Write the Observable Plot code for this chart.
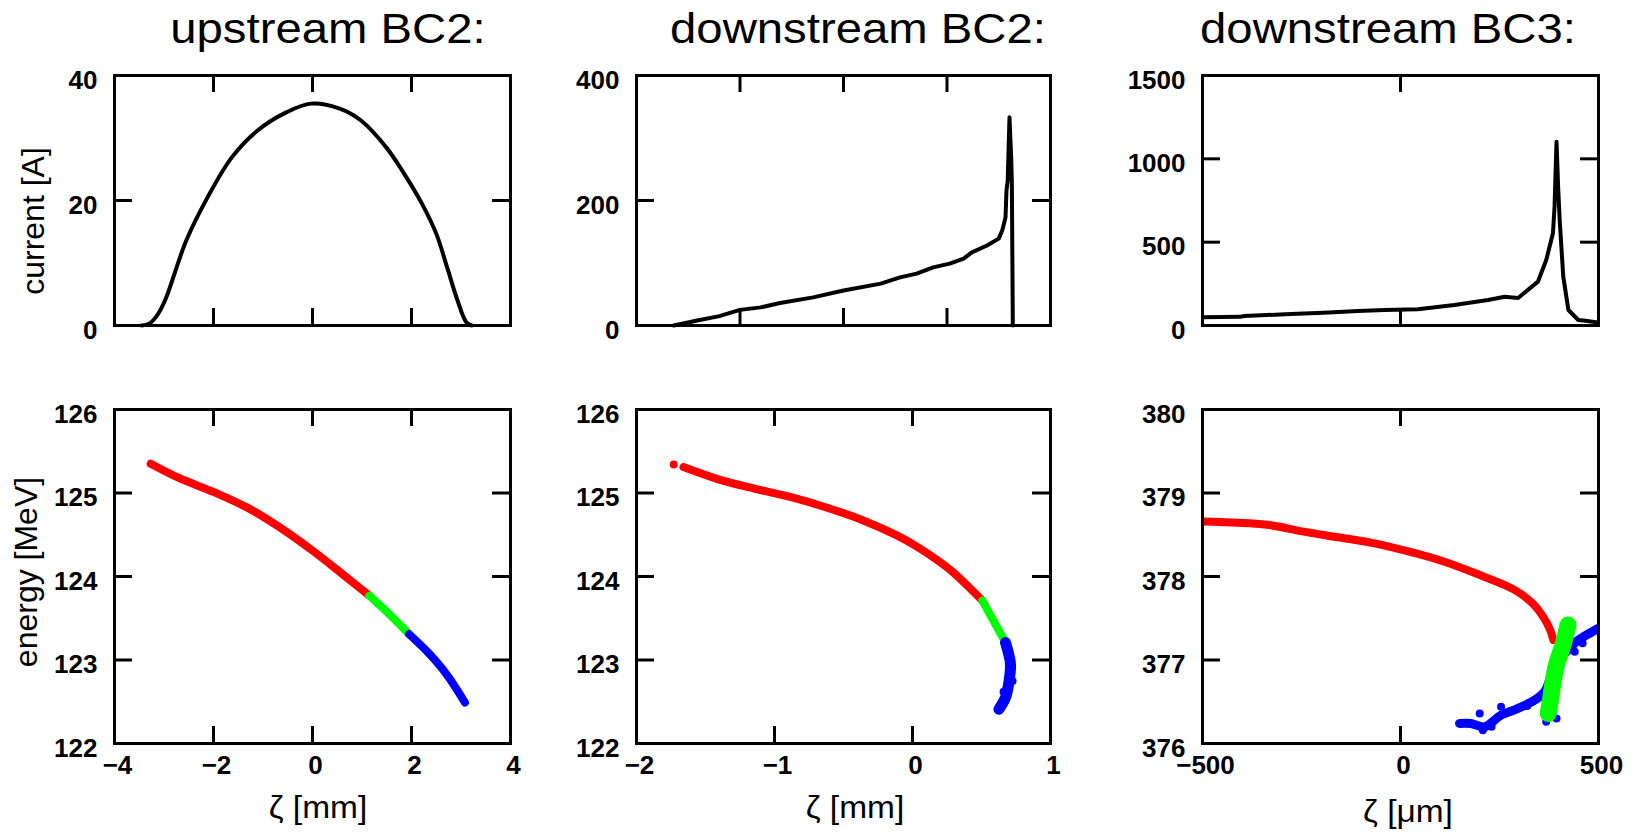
<!DOCTYPE html>
<html><head><meta charset="utf-8">
<script src="https://cdn.jsdelivr.net/npm/d3@7"></script>
<script src="https://cdn.jsdelivr.net/npm/@observablehq/plot@0.6"></script>
<style>
body{margin:0;background:#fff;}
#root{position:relative;width:1643px;height:833px;overflow:hidden;font-family:"Liberation Sans",Arial,sans-serif;color:#000;background:#fff;}
.t{position:absolute;white-space:nowrap;line-height:1;}
#root svg{position:absolute;}
</style></head><body><div id="root"></div>
<script>
// ---------- titles & labels ----------
const titles = ["upstream BC2:", "downstream BC2:", "downstream BC3:"];
const xLabels = ["ζ [mm]", "ζ [mm]", "ζ [μm]"];
const yLabels = ["current [A]", "energy [MeV]"];

// ---------- upstream BC2 current ----------
const upZeta    = [-3.45,-3.3,-3.15,-2.98,-2.55,-2.12,-1.63,-1.11,-0.53,-0.03,0.55,0.98,1.49,1.85,2.21,2.50,2.72,2.93,3.11,3.22];
const upCurrent = [0,0.3,1.5,4.0,13.6,20.5,26.9,31.2,34.1,35.5,34.7,32.8,28.5,24.3,19.5,14.7,9.3,4.0,0.5,0];

// ---------- downstream BC2 current ----------
const dsZeta    = [-1.73,-1.56,-1.40,-1.25,-1.10,-0.96,-0.72,-0.50,-0.23,-0.09,0.03,0.15,0.27,0.37,0.43,0.54,0.625,0.65,0.674,0.681,0.69,0.698,0.703,0.709,0.715,0.72,0.727];
const dsCurrent = [0,8,15,25,29,36,45,56,67,77,83,93,99,107,117,128,139,152,173,216,232,296,333,300,269,227,0];

// ---------- downstream BC3 current ----------
const bc3Zeta    = [-500,-405,-395,-277,-194,-108,-41,44,136,221,263,297,347,368,385,389,392,394,398,402,411,424,449,467,500];
const bc3Current = [50,52,57,69,77,87,93,98,123,153,173,165,263,393,553,713,953,1103,833,633,293,93,33,28,17];

// ---------- energy, upstream BC2 ----------
const upRed   = [[-3.27,125.35],[-2.70,125.18],[-1.99,125.01],[-1.27,124.81],[-0.69,124.60],[0.0,124.31],[0.54,124.06],[1.15,123.77]];
const upGreen = [[1.15,123.77],[1.55,123.55],[1.95,123.31]];
const upBlue  = [[1.95,123.31],[2.35,123.08],[2.72,122.82],[3.08,122.49]];

// ---------- energy, downstream BC2 ----------
const dsRedDot = [[-1.73,125.34]];
const dsRed   = [[-1.66,125.31],[-1.40,125.16],[-1.14,125.05],[-0.88,124.95],[-0.63,124.83],[-0.37,124.68],[-0.11,124.49],[0.02,124.37],[0.15,124.23],[0.28,124.07],[0.41,123.87],[0.507,123.71]];
const dsGreen = [[0.507,123.71],[0.58,123.49],[0.674,123.21]];
const dsBlue  = [[0.674,123.21],[0.70,123.05],[0.71,122.95],[0.70,122.75],[0.674,122.55],[0.626,122.41]];
const dsBlueDots = [[0.72,122.9],[0.725,122.75],[0.66,122.62],[0.65,122.5],[0.69,122.65]];

// ---------- energy, downstream BC3 ----------
const bc3Red   = [[-500,378.66],[-337,378.62],[-248,378.54],[-158,378.47],[-69,378.40],[20,378.30],[109,378.18],[199,378.02],[288,377.84],[333,377.68],[360,377.52],[378,377.36],[386,377.24]];
const bc3Blue  = [[149,376.24],[178,376.24],[212,376.2],[254,376.34],[297,376.42],[339,376.52],[364,376.62],[380,376.8],[395,376.95],[410,377.05],[431,377.16],[444,377.22],[470,377.3],[500,377.38]];
const bc3BlueDots = [[254,376.44],[200,376.36],[208,376.16],[394,376.30],[368,376.26],[230,376.2],[320,376.45],[440,377.1],[460,377.2]];
const bc3Green = [[373,376.36],[378,376.5],[386,376.76],[395,376.96],[409,377.16],[418,377.32],[423,377.42]];

// ---------- axes ----------
const ticksUpX = [-4,-2,0,2,4], ticksDsX = [-2,-1,0,1], ticksBc3X = [-500,0,500];
const ticksCurUp = [0,20,40], ticksCurDs = [0,200,400], ticksCurBc3 = [0,500,1000,1500];
const ticksE = [122,123,124,125,126], ticksE3 = [376,377,378,379,380];

const root = document.getElementById("root");
const fmt = d3.format("d");
const RED = "#ff0000", GREEN = "#00ff00", BLUE = "#0000ff";
const FS = 26;

function panel(o) {
  const ml = 90, mr = 30, mt = 30, mb = 60;
  const marks = [
    ...o.marks,
    Plot.tickX(o.xMarks, {x: d => d, insetTop: o.h - 17, strokeWidth: 3}),
    Plot.tickX(o.xMarks, {x: d => d, insetBottom: o.h - 17, strokeWidth: 3}),
    Plot.tickY(o.yMarks, {y: d => d, insetRight: o.w - 18, strokeWidth: 3}),
    Plot.tickY(o.yMarks, {y: d => d, insetLeft: o.w - 18, strokeWidth: 3}),
    Plot.axisY({ticks: o.yTicks, tickSize: 0, tickPadding: 17, tickFormat: fmt, dy: 5, label: null, fontSize: FS, fontWeight: "bold"}),
  ];
  if (o.xTicks) marks.push(Plot.axisX({ticks: o.xTicks, tickSize: 0, tickPadding: 12, tickFormat: fmt, dx: 3, label: null, fontSize: FS, fontWeight: "bold"}));
  marks.push(Plot.frame({strokeWidth: 3}));
  const svg = Plot.plot({
    width: o.w + ml + mr, height: o.h + mt + mb,
    marginLeft: ml, marginRight: mr, marginTop: mt, marginBottom: mb,
    x: {domain: o.xd, axis: o.xTicks ? undefined : null},
    y: {domain: o.yd},
    style: {background: "none", overflow: "visible", maxWidth: "none", fontFamily: "Liberation Sans, Arial, sans-serif", fontSize: FS + "px", fontWeight: "bold", color: "#000"},
    marks
  });
  svg.style.left = (o.left - ml) + "px";
  svg.style.top = (o.top - mt) + "px";
  root.appendChild(svg);
}

const band = (data, color, w) => Plot.line(data, {x: d => d[0], y: d => d[1], stroke: color, strokeWidth: w, strokeLinecap: "round", strokeLinejoin: "round", curve: "catmull-rom", clip: true});
const dots = (data, color, r) => Plot.dot(data, {x: d => d[0], y: d => d[1], fill: color, r, clip: true});

const cols = [{left: 114, w: 396}, {left: 636, w: 414}, {left: 1202, w: 396}];
const rowTop = {top: 75, h: 250}, rowBot = {top: 409, h: 334};

// top row
panel({...cols[0], ...rowTop, xd: [-4, 4], yd: [0, 40], xMarks: [-2, 0, 2], yMarks: [20], yTicks: ticksCurUp,
  marks: [Plot.line(upZeta, {x: upZeta, y: upCurrent, curve: "catmull-rom", strokeWidth: 4})]});
panel({...cols[1], ...rowTop, xd: [-2, 1], yd: [0, 400], xMarks: [-1.25, -0.5, 0.25], yMarks: [200], yTicks: ticksCurDs,
  marks: [Plot.line(dsZeta, {x: dsZeta, y: dsCurrent, strokeWidth: 4, strokeLinejoin: "round"})]});
panel({...cols[2], ...rowTop, xd: [-500, 500], yd: [0, 1500], xMarks: [0], yMarks: [500, 1000], yTicks: ticksCurBc3,
  marks: [Plot.line(bc3Zeta, {x: bc3Zeta, y: bc3Current, strokeWidth: 4, strokeLinejoin: "round", clip: true})]});

// bottom row
panel({...cols[0], ...rowBot, xd: [-4, 4], yd: [122, 126], xMarks: [-2, 0, 2], yMarks: [123, 124, 125], yTicks: ticksE, xTicks: ticksUpX,
  marks: [band(upRed, RED, 8), band(upGreen, GREEN, 8), band(upBlue, BLUE, 8)]});
panel({...cols[1], ...rowBot, xd: [-2, 1], yd: [122, 126], xMarks: [-1, 0], yMarks: [123, 124, 125], yTicks: ticksE, xTicks: ticksDsX,
  marks: [dots(dsRedDot, RED, 4), band(dsRed, RED, 8), band(dsGreen, GREEN, 8), band(dsBlue, BLUE, 11), dots(dsBlueDots, BLUE, 4)]});
panel({...cols[2], ...rowBot, xd: [-500, 500], yd: [376, 380], xMarks: [0], yMarks: [377, 378, 379], yTicks: ticksE3, xTicks: ticksBc3X,
  marks: [band(bc3Red, RED, 8), band(bc3Blue, BLUE, 9), dots(bc3BlueDots, BLUE, 4), band(bc3Green, GREEN, 17)]});

// HTML text
function addText(txt, cx, baseline, size, sx) {
  const d = document.createElement("div");
  d.className = "t"; d.textContent = txt;
  d.style.fontSize = size + "px";
  d.style.left = cx + "px";
  d.style.top = (baseline - 0.8465 * size) + "px";
  d.style.transform = `translateX(-50%) scaleX(${sx})`;
  root.appendChild(d);
}
function addVText(txt, cx, cy, size) {
  const d = document.createElement("div");
  d.className = "t"; d.textContent = txt;
  d.style.fontSize = size + "px";
  d.style.left = cx + "px"; d.style.top = cy + "px";
  d.style.transform = "translate(-50%,-50%) rotate(-90deg)";
  root.appendChild(d);
}
addText(titles[0], 328, 43, 43, 1.1);
addText(titles[1], 858, 43, 43, 1.1);
addText(titles[2], 1388, 43, 43, 1.1);
addText(xLabels[0], 318, 818, 31, 1.08);
addText(xLabels[1], 855, 818, 31, 1.08);
addText(xLabels[2], 1408, 822, 31, 1.08);
addVText(yLabels[0], 33, 221, 32);
addVText(yLabels[1], 26, 572, 32);
</script></body></html>
